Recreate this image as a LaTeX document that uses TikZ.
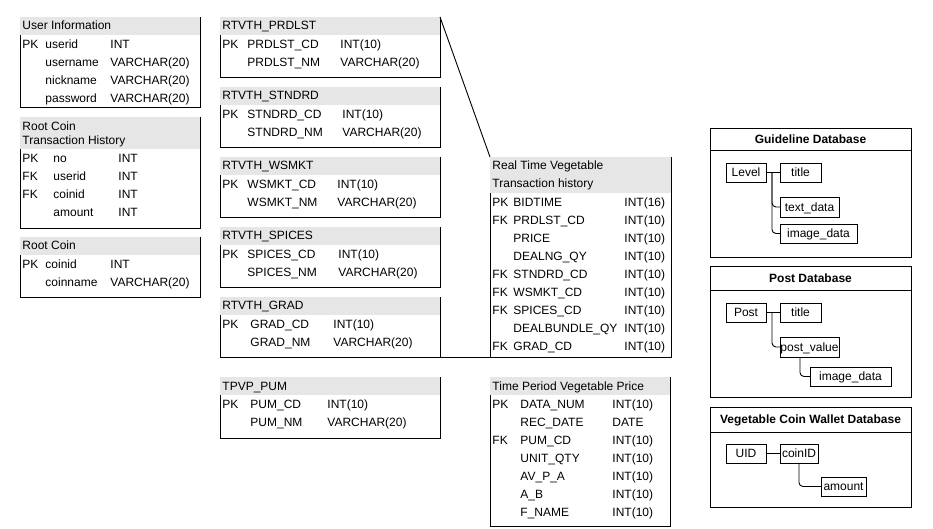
\documentclass[tikz,border=0pt]{standalone}
\usepackage{fontspec}
\setmainfont{Liberation Sans}
\usepackage{array}
\newcolumntype{F}[2]{@{}p{#1}@{}p{#2}@{}l@{}}
\definecolor{hdrgray}{RGB}{230,230,230}

\begin{document}
\begin{tikzpicture}[x=1pt, y=-1pt, font=\fontsize{12}{18}\selectfont, line width=0.9pt]
            \tikzset{tbl/.style = {anchor=north west, inner sep=0pt, outer sep=0pt}}
            \tikzset{txt/.style = {anchor=west, inner sep=0pt, text height=8.6pt, text depth=0pt}}
            \tikzset{rows/.style = {anchor=north west, inner sep=0pt}}
            \tikzset{dbbox/.style = {draw, anchor=north west, inner sep=0pt, outer sep=0pt}}
            \tikzset{dbtitle/.style = {inner sep=0pt, text height=8.6pt, text depth=0pt, font=\fontsize{12}{18}\selectfont\bfseries}}
            \tikzset{field/.style = {draw, inner sep=0pt, outer sep=0pt, minimum height=19, text height=8.6pt, text depth=0pt}}
            \tikzset{edge/.style = {draw}}

            \useasboundingbox (0,0) rectangle (933,528);

            % table frames: name/x/y/width/height/header
            \foreach \n/\x/\y/\w/\h/\hh in {userinfo/20/17/180/90/18, rcth/20/117/180/111/32, rootcoin/20/237/180/60/18,
                prdlst/220/17/220/60/18, stndrd/220/87/220/60/18, wsmkt/220/157/220/60/18,
                spices/220/227/220/60/18, grad/220/297/220/60/18, pum/220/377/220/61/18,
                rtvth/490/157/181/200/36, tpvp/490/377/180/149/18} {
                \node[tbl, minimum width=\w, minimum height=\h] (\n) at (\x,\y) {};
                \fill[hdrgray] (\n.north west) rectangle ([yshift=-\hh]\n.north east);
                \draw ([yshift=-\hh]\n.north west) |- (\n.south east) -- (\n.north east);
            }

            \node[txt] (userinfo-t) at (22,25) {User Information};
            \node[rows] (userinfo-r) at (22,35) {\begin{tabular}{F{23pt}{65pt}}
                PK & userid & INT\\ & username & VARCHAR(20)\\ & nickname & VARCHAR(20)\\ & password & VARCHAR(20)
            \end{tabular}};

            \node[txt] (rcth-t1) at (22,126) {Root Coin};
            \node[txt] (rcth-t2) at (22,140) {Transaction History};
            \node[rows] (rcth-r) at (22,149) {\begin{tabular}{F{31pt}{65pt}}
                PK & no & INT\\ FK & userid & INT\\ FK & coinid & INT\\ & amount & INT
            \end{tabular}};

            \node[txt] (rootcoin-t) at (22,245) {Root Coin};
            \node[rows] (rootcoin-r) at (22,255) {\begin{tabular}{F{23pt}{65pt}}
                PK & coinid & INT\\ & coinname & VARCHAR(20)
            \end{tabular}};

            \node[txt] (prdlst-t) at (222,25) {RTVTH\_PRDLST};
            \node[rows] (prdlst-r) at (222,35) {\begin{tabular}{F{25pt}{93pt}}
                PK & PRDLST\_CD & INT(10)\\ & PRDLST\_NM & VARCHAR(20)
            \end{tabular}};

            \node[txt] (stndrd-t) at (222,95) {RTVTH\_STNDRD};
            \node[rows] (stndrd-r) at (222,105) {\begin{tabular}{F{25pt}{95pt}}
                PK & STNDRD\_CD & INT(10)\\ & STNDRD\_NM & VARCHAR(20)
            \end{tabular}};

            \node[txt] (wsmkt-t) at (222,165) {RTVTH\_WSMKT};
            \node[rows] (wsmkt-r) at (222,175) {\begin{tabular}{F{25pt}{90pt}}
                PK & WSMKT\_CD & INT(10)\\ & WSMKT\_NM & VARCHAR(20)
            \end{tabular}};

            \node[txt] (spices-t) at (222,235) {RTVTH\_SPICES};
            \node[rows] (spices-r) at (222,245) {\begin{tabular}{F{25pt}{91pt}}
                PK & SPICES\_CD & INT(10)\\ & SPICES\_NM & VARCHAR(20)
            \end{tabular}};

            \node[txt] (grad-t) at (222,305) {RTVTH\_GRAD};
            \node[rows] (grad-r) at (222,315) {\begin{tabular}{F{28pt}{83pt}}
                PK & GRAD\_CD & INT(10)\\ & GRAD\_NM & VARCHAR(20)
            \end{tabular}};

            \node[txt] (pum-t) at (222,386) {TPVP\_PUM};
            \node[rows] (pum-r) at (222,395) {\begin{tabular}{F{28pt}{77pt}}
                PK & PUM\_CD & INT(10)\\ & PUM\_NM & VARCHAR(20)
            \end{tabular}};

            \node[txt] (rtvth-t1) at (492,165) {Real Time Vegetable};
            \node[txt] (rtvth-t2) at (492,183) {Transaction history};
            \node[rows] (rtvth-r) at (492,193) {\begin{tabular}{F{21pt}{111pt}}
                PK & BIDTIME & INT(16)\\ FK & PRDLST\_CD & INT(10)\\ & PRICE & INT(10)\\
                & DEALNG\_QY & INT(10)\\ FK & STNDRD\_CD & INT(10)\\ FK & WSMKT\_CD & INT(10)\\
                FK & SPICES\_CD & INT(10)\\ & DEALBUNDLE\_QY & INT(10)\\ FK & GRAD\_CD & INT(10)
            \end{tabular}};

            \node[txt] (tpvp-t) at (492,386) {Time Period Vegetable Price};
            \node[rows] (tpvp-r) at (492,395) {\begin{tabular}{F{28pt}{92pt}}
                PK & DATA\_NUM & INT(10)\\ & REC\_DATE & DATE\\ FK & PUM\_CD & INT(10)\\
                & UNIT\_QTY & INT(10)\\ & AV\_P\_A & INT(10)\\ & A\_B & INT(10)\\ & F\_NAME & INT(10)
            \end{tabular}};

            \draw[edge] (prdlst.north east) to (rtvth.north west);
            \draw[edge] (grad.south east) to (rtvth.south west);

            % guideline database
            \node[dbbox, minimum width=201, minimum height=129] (gdb) at (710,128) {};
            \draw ([yshift=-22]gdb.north west) -- ([yshift=-22]gdb.north east);
            \node[dbtitle] (gdb-t) at (810.5,139) {Guideline Database};
            \node[field, minimum width=40] (level) at (746,172.5) {Level};
            \node[field, minimum width=41] (gtitle) at (800.5,172.5) {title};
            \node[field, minimum width=59, minimum height=20] (textdata) at (809.5,207) {text\_data};
            \node[field, minimum width=77] (gimage) at (818.5,233.5) {image\_data};
            \coordinate (gjoin) at (772,172.5);
            \draw[edge] (level) to (gtitle);
            \draw[edge, rounded corners=4] (gjoin) |- (textdata.west);
            \draw[edge, rounded corners=4] (gjoin) |- (gimage.west);

            % post database
            \node[dbbox, minimum width=201, minimum height=131] (pdb) at (710,266) {};
            \draw ([yshift=-24]pdb.north west) -- ([yshift=-24]pdb.north east);
            \node[dbtitle] (pdb-t) at (810.5,278) {Post Database};
            \node[field, minimum width=40] (post) at (746,312.5) {Post};
            \node[field, minimum width=41] (ptitle) at (800.5,312.5) {title};
            \node[field, minimum width=59, minimum height=20] (postval) at (809.5,347) {post\_value};
            \node[field, minimum width=81] (pimage) at (850.5,376.5) {image\_data};
            \coordinate (pjoin) at (772,312.5);
            \draw[edge] (post) to (ptitle);
            \draw[edge, rounded corners=4] (pjoin) |- (postval.west);
            \draw[edge, rounded corners=4] ([xshift=-9.5]postval.south) |- (pimage.west);

            % wallet database
            \node[dbbox, minimum width=201, minimum height=100] (wdb) at (710,407) {};
            \draw ([yshift=-25]wdb.north west) -- ([yshift=-25]wdb.north east);
            \node[dbtitle] (wdb-t) at (810.5,419.5) {Vegetable Coin Wallet Database};
            \node[field, minimum width=40] (uid) at (746,453.5) {UID};
            \node[field, minimum width=38] (coinid) at (799,453.5) {coinID};
            \node[field, minimum width=45] (amount) at (843.5,486.5) {amount};
            \draw[edge] (uid) to (coinid);
            \draw[edge, rounded corners=4] (coinid.south) |- (amount.west);
        \end{tikzpicture}
\end{document}
